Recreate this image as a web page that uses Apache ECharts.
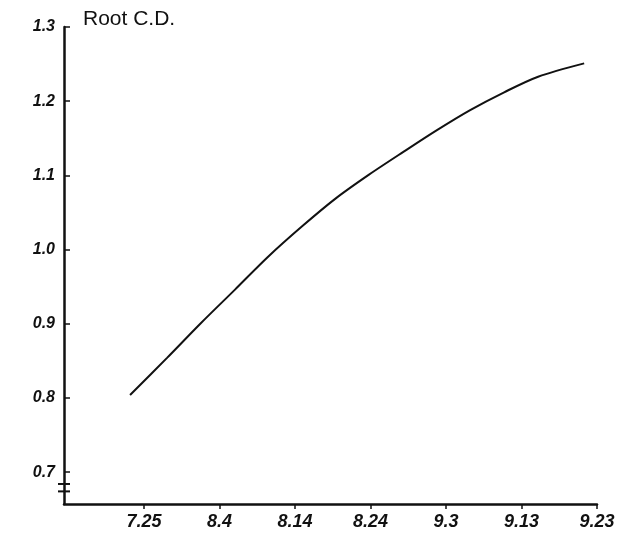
<!DOCTYPE html>
<html>
<head>
<meta charset="utf-8">
<script src="https://cdn.jsdelivr.net/npm/echarts@6/dist/echarts.min.js"></script>
<style>html,body{margin:0;padding:0;background:#fff;}#c{width:628px;height:541px;}</style>
</head>
<body>
<div id="c"></div>
<script>
// Days counted from 25 July (x), Root C.D. (y)
const dayOffsets = [-1.85, 3.05, 7.55, 12.05, 16.4, 20.9, 25.4, 29.8, 34.4, 38.8, 43.2, 47.7, 52.2, 58.3];
const rootCD = [0.804, 0.854, 0.901, 0.946, 0.990, 1.031, 1.069, 1.101, 1.132, 1.161, 1.188, 1.212, 1.233, 1.251];
const xTickDays = [0, 10, 20, 30, 40, 50, 60];
const xTickLabels = ['7.25', '8.4', '8.14', '8.24', '9.3', '9.13', '9.23'];
const yTickValues = [0.7, 0.8, 0.9, 1.0, 1.1, 1.2, 1.3];
const yTickLabels = ['0.7', '0.8', '0.9', '1.0', '1.1', '1.2', '1.3'];

const chart = echarts.init(document.getElementById('c'));
const ink = '#111';
const font = 'Liberation Sans';
chart.setOption({
  animation: false,
  backgroundColor: '#fff',
  title: {
    text: 'Root C.D.', left: 78, top: 4,
    textStyle: { fontFamily: font, fontSize: 21, fontWeight: 'normal', color: ink }
  },
  grid: { left: 64, right: 31, top: 27, bottom: 37 },
  xAxis: {
    type: 'value', min: -10.6, max: 60,
    splitLine: { show: false },
    axisLine: { onZero: false, lineStyle: { color: ink, width: 2.5 } },
    axisTick: { customValues: xTickDays, length: 5, lineStyle: { color: ink, width: 1.5 } },
    axisLabel: {
      customValues: xTickDays,
      formatter: v => xTickLabels[xTickDays.indexOf(Math.round(v))] || '',
      fontFamily: font, fontSize: 18, fontWeight: 'bold', fontStyle: 'italic', color: ink, margin: 9
    }
  },
  yAxis: {
    type: 'value', min: 0.657, max: 1.3,
    splitLine: { show: false },
    axisLine: { onZero: false, lineStyle: { color: ink, width: 2.5 } },
    axisTick: { customValues: yTickValues, length: 6, inside: true, lineStyle: { color: ink, width: 1.5 } },
    axisLabel: {
      customValues: yTickValues,
      formatter: v => yTickLabels[yTickValues.findIndex(t => Math.abs(t - v) < 1e-6)] || '',
      fontFamily: font, fontSize: 16, fontWeight: 'bold', fontStyle: 'italic', color: ink, margin: 9
    }
  },
  series: [{
    type: 'line',
    data: dayOffsets.map((d, i) => [d, rootCD[i]]),
    smooth: 0.3,
    showSymbol: false,
    lineStyle: { color: ink, width: 2 }
  }]
});

// axis-break marks on the y axis just below 0.7
const p1 = chart.convertToPixel({ gridIndex: 0 }, [-10.6, 0.684]);
const p2 = chart.convertToPixel({ gridIndex: 0 }, [-10.6, 0.674]);
chart.setOption({
  graphic: [
    { type: 'line', shape: { x1: p1[0] - 6, y1: p1[1], x2: p1[0] + 6, y2: p1[1] }, style: { stroke: ink, lineWidth: 2 } },
    { type: 'line', shape: { x1: p2[0] - 6, y1: p2[1], x2: p2[0] + 6, y2: p2[1] }, style: { stroke: ink, lineWidth: 2 } }
  ]
});
</script>
</body>
</html>
